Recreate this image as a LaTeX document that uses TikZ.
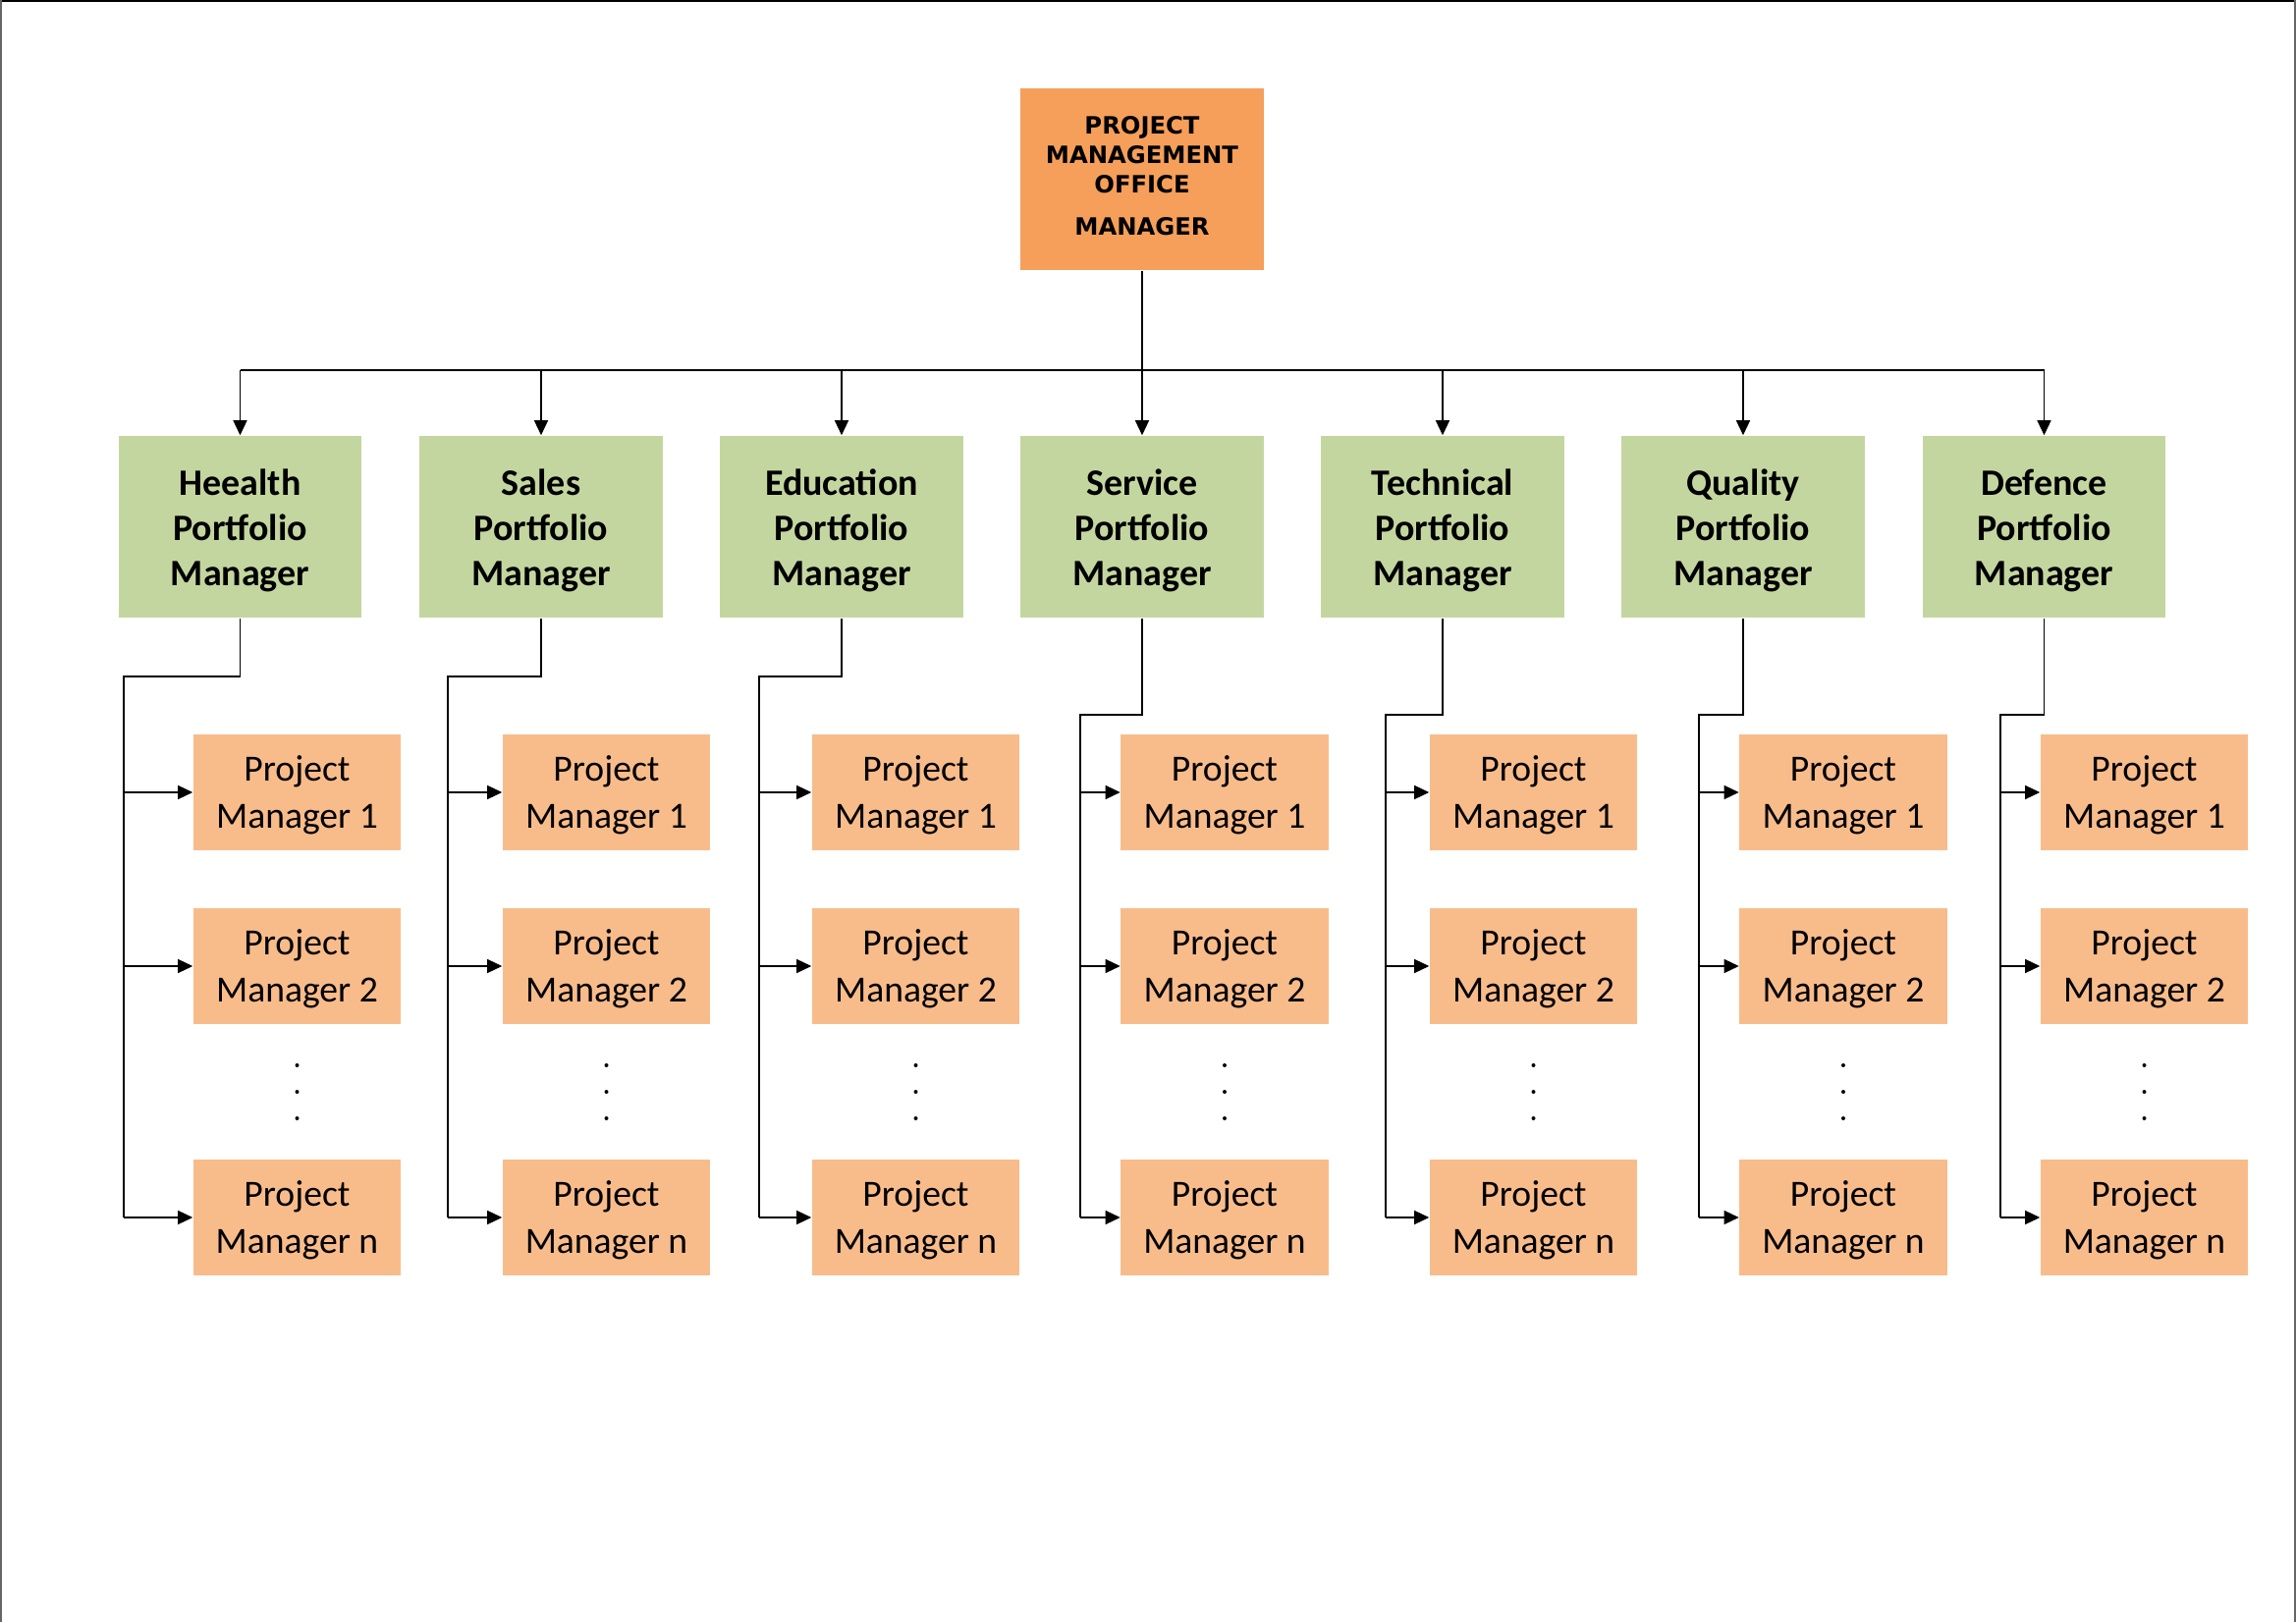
\documentclass[tikz,border=0pt]{standalone}
\usepackage{fontspec}
\setmainfont{Carlito}
\newfontfamily\pmofont{DejaVu Sans}
\usetikzlibrary{arrows.meta}
\definecolor{pmoorange}{HTML}{F59F5A}
\definecolor{greenbox}{HTML}{C4D69F}
\definecolor{pmbox}{HTML}{F8BC8B}
\newcommand{\topstrut}[1]{\rule{0pt}{#1}}
\begin{document}
\begin{tikzpicture}[x=0.01cm,y=-0.01cm,
  pmo/.style={fill=pmoorange, minimum width=2.48cm, minimum height=1.85cm, inner sep=0pt, align=center,
    font=\pmofont\bfseries\fontsize{6.9}{8.5}\selectfont},
  gbox/.style={fill=greenbox, minimum width=2.47cm, minimum height=1.85cm, inner sep=0pt, align=center,
    font=\bfseries\fontsize{10.8}{13.1}\selectfont},
  pmboxstyle/.style={fill=pmbox, minimum width=2.11cm, minimum height=1.18cm, inner sep=0pt, align=center,
    font=\fontsize{10.7}{13.6}\selectfont},
  dotstyle/.style={circle, fill=black, inner sep=0pt, minimum size=0.04cm},
  conn/.style={draw=black, line width=0.35pt},
  arr/.style={conn, -{Triangle[length=0.15cm, width=0.14cm]}},
  frameline/.style={line width=0.6pt}
]
\useasboundingbox (0,0) rectangle (2338,1652);
% page frame
\draw[frameline, black] (0,1) -- (2338,1);
\draw[frameline, black!60] (1,0) -- (1,1652);
\draw[frameline, black!60] (2337,0) -- (2337,1652);

\node[pmo] (top) at (1163,182.5) {PROJECT\\MANAGEMENT\\OFFICE\\[3.7pt]MANAGER\rule[-2pt]{0pt}{0pt}};

\foreach \i/\gx/\name/\px/\rx/\ey in {1/244.5/Heealth/302.5/126/689, 2/551/Sales/617.5/456/689, 3/857/Education/932.5/773/689, 4/1163/Service/1247/1100/728, 5/1469/Technical/1561.5/1411/728, 6/1775/Quality/1877/1730/728, 7/2081.5/Defence/2183.5/2037/728}{
  \node[gbox] (g\i) at (\gx,536.5) {\topstrut{9.8pt}\name\\Portfolio\\Manager};
  \node[pmboxstyle] (pa\i) at (\px,807) {\topstrut{9pt}Project\\Manager 1};
  \node[pmboxstyle] (pb\i) at (\px,984) {\topstrut{9pt}Project\\Manager 2};
  \node[dotstyle] (da\i) at (\px,1085) {};
  \node[dotstyle] (db\i) at (\px,1112) {};
  \node[dotstyle] (dc\i) at (\px,1139) {};
  \node[pmboxstyle] (pn\i) at (\px,1240) {\topstrut{9pt}Project\\Manager n};
  \coordinate (t\i) at (\gx,377);
  \coordinate (e\i) at (\rx,\ey);
  \draw[arr] (t\i) -- (g\i.north);
  \draw[conn] (g\i.south) |- (e\i) -- (e\i |- pn\i.west);
  \foreach \k in {pa,pb,pn}{
    \draw[arr] (e\i |- \k\i.west) -- (\k\i.west);
  }
}
\draw[conn] (t1) -- (t7);
\draw[conn] (top.south) -- (top.south |- t4);
\end{tikzpicture}
\end{document}
